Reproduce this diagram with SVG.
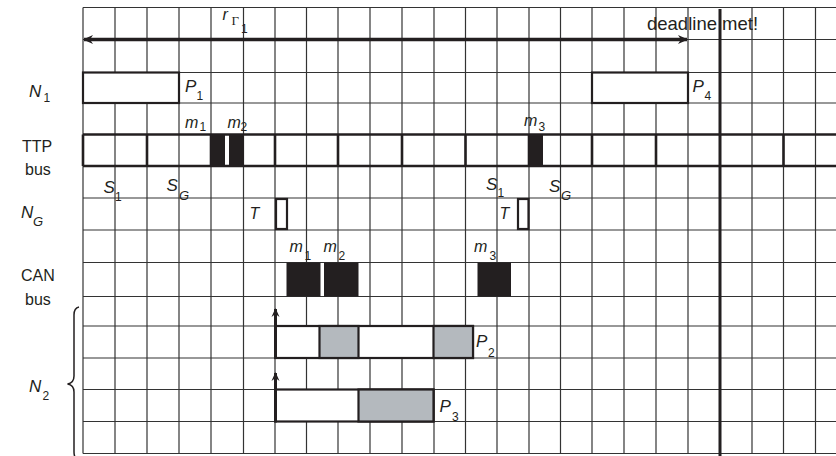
<svg xmlns="http://www.w3.org/2000/svg" width="836" height="456" viewBox="0 0 836 456">
<defs>
<style>
.grid line{stroke:#333;stroke-width:1.2}
.thick{stroke:#231f20;stroke-width:2.6;fill:none}
.box{stroke:#231f20;stroke-width:2.2;fill:#fff}
.gray{stroke:#231f20;stroke-width:2.2;fill:#b4b9be}
.blk{fill:#231f20;stroke:none}
text{font-family:"Liberation Sans",Arial,sans-serif;fill:#231f20}
.lab{font-size:16px}
.it{font-size:17px;font-style:italic}
.im{font-size:16px;font-style:italic}
.sub{font-size:12px;font-style:normal}
.subi{font-size:13px;font-style:italic}
.arr{stroke:#231f20;stroke-width:3.5;fill:none}
.varr{stroke:#231f20;stroke-width:3;fill:none}
</style>
<marker id="ah" viewBox="-10 -6 12 12" refX="0" refY="0" markerWidth="12" markerHeight="12" markerUnits="userSpaceOnUse" orient="auto-start-reverse">
<path d="M1,0 L-9,-4.5 L-6,0 L-9,4.5 Z" fill="#231f20"/>
</marker>
<marker id="ah2" viewBox="-10 -6 12 12" refX="0" refY="0" markerWidth="12" markerHeight="12" markerUnits="userSpaceOnUse" orient="auto">
<path d="M1,0 L-8,-4 L-5,0 L-8,4 Z" fill="#231f20"/>
</marker>
</defs>
<rect width="836" height="456" fill="#fff"/>
<g id="grid" class="grid">
<line x1="83" y1="7.5" x2="836" y2="7.5"/>
<line x1="83" y1="39.5" x2="836" y2="39.5"/>
<line x1="83" y1="72.5" x2="836" y2="72.5"/>
<line x1="83" y1="103" x2="836" y2="103"/>
<line x1="83" y1="134.5" x2="836" y2="134.5"/>
<line x1="83" y1="166" x2="836" y2="166"/>
<line x1="83" y1="198" x2="836" y2="198"/>
<line x1="83" y1="230" x2="836" y2="230"/>
<line x1="83" y1="262.5" x2="836" y2="262.5"/>
<line x1="83" y1="296.5" x2="836" y2="296.5"/>
<line x1="83" y1="326" x2="836" y2="326"/>
<line x1="83" y1="358" x2="836" y2="358"/>
<line x1="83" y1="389.5" x2="836" y2="389.5"/>
<line x1="83" y1="421.5" x2="836" y2="421.5"/>
<line x1="83" y1="453.5" x2="836" y2="453.5"/>
<line x1="83" y1="7.5" x2="83" y2="453.5"/>
<line x1="115" y1="7.5" x2="115" y2="453.5"/>
<line x1="147" y1="7.5" x2="147" y2="453.5"/>
<line x1="179" y1="7.5" x2="179" y2="453.5"/>
<line x1="211" y1="7.5" x2="211" y2="453.5"/>
<line x1="243.5" y1="7.5" x2="243.5" y2="453.5"/>
<line x1="275" y1="7.5" x2="275" y2="453.5"/>
<line x1="306.5" y1="7.5" x2="306.5" y2="453.5"/>
<line x1="338" y1="7.5" x2="338" y2="453.5"/>
<line x1="370" y1="7.5" x2="370" y2="453.5"/>
<line x1="402" y1="7.5" x2="402" y2="453.5"/>
<line x1="434" y1="7.5" x2="434" y2="453.5"/>
<line x1="465.5" y1="7.5" x2="465.5" y2="453.5"/>
<line x1="497" y1="7.5" x2="497" y2="453.5"/>
<line x1="529" y1="7.5" x2="529" y2="453.5"/>
<line x1="560.5" y1="7.5" x2="560.5" y2="453.5"/>
<line x1="592" y1="7.5" x2="592" y2="453.5"/>
<line x1="624" y1="7.5" x2="624" y2="453.5"/>
<line x1="656" y1="7.5" x2="656" y2="453.5"/>
<line x1="688" y1="7.5" x2="688" y2="453.5"/>
<line x1="752" y1="7.5" x2="752" y2="453.5"/>
<line x1="783.5" y1="7.5" x2="783.5" y2="453.5"/>
<line x1="815.5" y1="7.5" x2="815.5" y2="453.5"/>
</g>
<g id="row-labels">
<text class="it" x="29" y="96.5">N</text><text class="sub" x="43.5" y="102">1</text>
<text class="lab" x="22" y="152">TTP</text>
<text class="lab" x="25" y="175">bus</text>
<text class="it" x="21" y="218">N</text><text class="subi" x="33" y="226">G</text>
<text class="lab" x="21" y="281">CAN</text>
<text class="lab" x="25" y="305">bus</text>
<text class="it" x="29" y="391.5">N</text><text class="sub" x="42.5" y="400">2</text>
<path d="M79,307 Q74,308 74,315 L74,376 Q74,383 67.5,384 Q74,385 74,392 L74,452 Q74,459 79,460" fill="none" stroke="#231f20" stroke-width="1.5"/>
</g>
<g id="round">
<text class="im" x="222.5" y="20">r</text>
<text x="231.5" y="25" style="font-family:'Liberation Serif',serif;font-size:13px">Γ</text>
<text class="sub" x="241" y="33">1</text>
<text class="lab" x="647" y="30" style="font-size:18.5px">deadline met!</text>
<line x1="720" y1="9" x2="720" y2="456" stroke="#231f20" stroke-width="3"/>
</g>
<g id="N1">
<rect class="box" x="83" y="72.5" width="96" height="30.5"/>
<text class="it" x="185" y="92">P</text><text class="sub" x="196.5" y="100">1</text>
<rect class="box" x="592" y="72.5" width="96" height="30.5"/>
<text class="it" x="692.5" y="92">P</text><text class="sub" x="704.5" y="100">4</text>
</g>
<g id="TTP">
<line class="thick" x1="83" y1="134.5" x2="836" y2="134.5"/>
<line class="thick" x1="83" y1="166" x2="836" y2="166"/>
<line class="thick" x1="83" y1="134.5" x2="83" y2="166"/>
<line class="thick" x1="147" y1="134.5" x2="147" y2="166"/>
<line class="thick" x1="211" y1="134.5" x2="211" y2="166"/>
<line class="thick" x1="275" y1="134.5" x2="275" y2="166"/>
<line class="thick" x1="338" y1="134.5" x2="338" y2="166"/>
<line class="thick" x1="402" y1="134.5" x2="402" y2="166"/>
<line class="thick" x1="465.5" y1="134.5" x2="465.5" y2="166"/>
<line class="thick" x1="529" y1="134.5" x2="529" y2="166"/>
<line class="thick" x1="592" y1="134.5" x2="592" y2="166"/>
<line class="thick" x1="656" y1="134.5" x2="656" y2="166"/>
<line class="thick" x1="783.5" y1="134.5" x2="783.5" y2="166"/>
<rect class="blk" x="210.5" y="134.5" width="14.5" height="31.5"/>
<rect class="blk" x="229" y="134.5" width="15" height="31.5"/>
<rect class="blk" x="528.5" y="134.5" width="14.5" height="31.5"/>
<text class="im" x="185" y="128">m</text><text class="sub" x="199.5" y="131">1</text>
<text class="im" x="227.5" y="128">m</text><text class="sub" x="240.5" y="131">2</text>
<text class="im" x="524" y="126">m</text><text class="sub" x="538.5" y="131">3</text>
<text class="it" x="103.5" y="193">S</text><text class="sub" x="115" y="200.5">1</text>
<text class="it" x="166.5" y="191">S</text><text class="subi" x="179" y="200">G</text>
<text class="it" x="486" y="190">S</text><text class="sub" x="497.5" y="196.5">1</text>
<text class="it" x="549" y="192">S</text><text class="subi" x="561" y="200">G</text>
</g>
<g id="NG">
<rect class="box" x="276" y="199" width="11" height="30"/>
<text class="im" x="249.5" y="219">T</text>
<rect class="box" x="518" y="199" width="10.5" height="30"/>
<text class="im" x="499.5" y="219">T</text>
</g>
<g id="CAN">
<rect class="blk" x="286.5" y="262.5" width="34" height="34"/>
<rect class="blk" x="324" y="262.5" width="34.5" height="34"/>
<rect class="blk" x="477.5" y="262.5" width="33.5" height="34"/>
<text class="im" x="289.5" y="252">m</text><text class="sub" x="304.5" y="260">1</text>
<text class="im" x="323.5" y="252">m</text><text class="sub" x="338.5" y="260">2</text>
<text class="im" x="474" y="252">m</text><text class="sub" x="489.5" y="260">3</text>
</g>
<g id="N2">
<rect class="box" x="275.5" y="326" width="197.5" height="32"/>
<rect class="gray" x="319.5" y="326" width="39" height="32"/>
<rect class="gray" x="433.5" y="326" width="39.5" height="32"/>
<text class="it" x="476" y="346.5">P</text><text class="sub" x="488" y="356.5">2</text>
<rect class="box" x="275.5" y="389.5" width="158" height="32"/>
<rect class="gray" x="358.5" y="389.5" width="75" height="32"/>
<text class="it" x="439.5" y="411.5">P</text><text class="sub" x="452" y="421">3</text>
</g>
<g id="connectors">
<line class="arr" x1="84" y1="39.5" x2="687" y2="39.5" marker-start="url(#ah)" marker-end="url(#ah)"/>
<line class="varr" x1="275.5" y1="359" x2="275.5" y2="309" marker-end="url(#ah2)"/>
<line class="varr" x1="275.5" y1="422.5" x2="275.5" y2="373" marker-end="url(#ah2)"/>
</g>
</svg>
